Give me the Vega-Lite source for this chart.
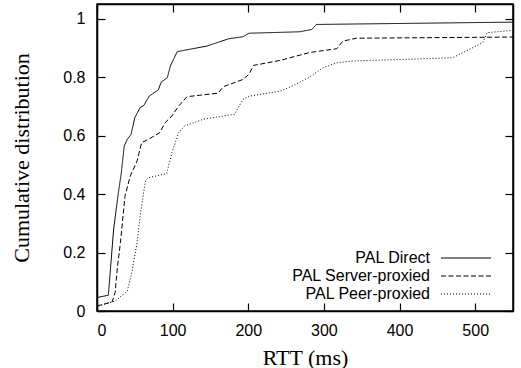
{
  "$schema": "https://vega.github.io/schema/vega-lite/v6.json",
  "width": 416,
  "height": 307,
  "autosize": "none",
  "padding": {"left": 97, "top": 4, "right": 8, "bottom": 57},
  "config": {
    "view": {"stroke": "#000", "strokeWidth": 1.5},
    "axis": {"grid": false, "domainColor": "#000", "domainWidth": 1.5, "tickWidth": 1.2, "labelColor": "#000", "titleColor": "#000", "labelFont": "Liberation Sans", "labelFontSize": 16, "titleFont": "Liberation Serif", "titleFontWeight": "normal", "titleFontSize": 22}
  },
  "data": {"values": [
    {"s": "PAL Direct", "x": 0, "y": 0.046}, {"s": "PAL Direct", "x": 15, "y": 0.054}, {"s": "PAL Direct", "x": 18, "y": 0.15}, {"s": "PAL Direct", "x": 22, "y": 0.28}, {"s": "PAL Direct", "x": 28, "y": 0.40}, {"s": "PAL Direct", "x": 32, "y": 0.47}, {"s": "PAL Direct", "x": 36, "y": 0.564}, {"s": "PAL Direct", "x": 40, "y": 0.587}, {"s": "PAL Direct", "x": 45, "y": 0.604}, {"s": "PAL Direct", "x": 50, "y": 0.661}, {"s": "PAL Direct", "x": 57, "y": 0.696}, {"s": "PAL Direct", "x": 62, "y": 0.703}, {"s": "PAL Direct", "x": 69, "y": 0.735}, {"s": "PAL Direct", "x": 81, "y": 0.756}, {"s": "PAL Direct", "x": 85, "y": 0.783}, {"s": "PAL Direct", "x": 93, "y": 0.798}, {"s": "PAL Direct", "x": 97, "y": 0.838}, {"s": "PAL Direct", "x": 106, "y": 0.887}, {"s": "PAL Direct", "x": 145, "y": 0.906}, {"s": "PAL Direct", "x": 174, "y": 0.931}, {"s": "PAL Direct", "x": 193, "y": 0.938}, {"s": "PAL Direct", "x": 201, "y": 0.950}, {"s": "PAL Direct", "x": 268, "y": 0.955}, {"s": "PAL Direct", "x": 284, "y": 0.963}, {"s": "PAL Direct", "x": 290, "y": 0.98}, {"s": "PAL Direct", "x": 550, "y": 0.988},
    {"s": "PAL Server-proxied", "x": 0, "y": 0.017}, {"s": "PAL Server-proxied", "x": 20, "y": 0.031}, {"s": "PAL Server-proxied", "x": 24, "y": 0.063}, {"s": "PAL Server-proxied", "x": 27, "y": 0.15}, {"s": "PAL Server-proxied", "x": 31, "y": 0.234}, {"s": "PAL Server-proxied", "x": 37, "y": 0.393}, {"s": "PAL Server-proxied", "x": 44, "y": 0.462}, {"s": "PAL Server-proxied", "x": 53, "y": 0.513}, {"s": "PAL Server-proxied", "x": 59, "y": 0.576}, {"s": "PAL Server-proxied", "x": 68, "y": 0.587}, {"s": "PAL Server-proxied", "x": 83, "y": 0.61}, {"s": "PAL Server-proxied", "x": 90, "y": 0.644}, {"s": "PAL Server-proxied", "x": 99, "y": 0.667}, {"s": "PAL Server-proxied", "x": 108, "y": 0.701}, {"s": "PAL Server-proxied", "x": 119, "y": 0.733}, {"s": "PAL Server-proxied", "x": 160, "y": 0.745}, {"s": "PAL Server-proxied", "x": 167, "y": 0.767}, {"s": "PAL Server-proxied", "x": 193, "y": 0.792}, {"s": "PAL Server-proxied", "x": 201, "y": 0.81}, {"s": "PAL Server-proxied", "x": 207, "y": 0.84}, {"s": "PAL Server-proxied", "x": 242, "y": 0.857}, {"s": "PAL Server-proxied", "x": 281, "y": 0.884}, {"s": "PAL Server-proxied", "x": 317, "y": 0.897}, {"s": "PAL Server-proxied", "x": 325, "y": 0.923}, {"s": "PAL Server-proxied", "x": 343, "y": 0.933}, {"s": "PAL Server-proxied", "x": 550, "y": 0.937},
    {"s": "PAL Peer-proxied", "x": 2, "y": 0.017}, {"s": "PAL Peer-proxied", "x": 24, "y": 0.034}, {"s": "PAL Peer-proxied", "x": 40, "y": 0.068}, {"s": "PAL Peer-proxied", "x": 46, "y": 0.131}, {"s": "PAL Peer-proxied", "x": 53, "y": 0.234}, {"s": "PAL Peer-proxied", "x": 57, "y": 0.325}, {"s": "PAL Peer-proxied", "x": 64, "y": 0.445}, {"s": "PAL Peer-proxied", "x": 68, "y": 0.456}, {"s": "PAL Peer-proxied", "x": 92, "y": 0.47}, {"s": "PAL Peer-proxied", "x": 97, "y": 0.519}, {"s": "PAL Peer-proxied", "x": 99, "y": 0.542}, {"s": "PAL Peer-proxied", "x": 108, "y": 0.61}, {"s": "PAL Peer-proxied", "x": 116, "y": 0.633}, {"s": "PAL Peer-proxied", "x": 141, "y": 0.656}, {"s": "PAL Peer-proxied", "x": 182, "y": 0.673}, {"s": "PAL Peer-proxied", "x": 193, "y": 0.724}, {"s": "PAL Peer-proxied", "x": 202, "y": 0.735}, {"s": "PAL Peer-proxied", "x": 242, "y": 0.752}, {"s": "PAL Peer-proxied", "x": 259, "y": 0.77}, {"s": "PAL Peer-proxied", "x": 281, "y": 0.80}, {"s": "PAL Peer-proxied", "x": 299, "y": 0.832}, {"s": "PAL Peer-proxied", "x": 317, "y": 0.849}, {"s": "PAL Peer-proxied", "x": 338, "y": 0.855}, {"s": "PAL Peer-proxied", "x": 470, "y": 0.866}, {"s": "PAL Peer-proxied", "x": 488, "y": 0.889}, {"s": "PAL Peer-proxied", "x": 510, "y": 0.918}, {"s": "PAL Peer-proxied", "x": 516, "y": 0.952}, {"s": "PAL Peer-proxied", "x": 550, "y": 0.96}
  ]},
  "layer": [
    {
      "mark": {"type": "line", "color": "#000", "strokeWidth": 1, "clip": true},
      "encoding": {
        "x": {"field": "x", "type": "quantitative", "scale": {"domain": [0, 550], "nice": false, "zero": false}, "axis": {"orient": "bottom", "tickCount": 6, "tickColor": "#000", "tickSize": -8, "labelPadding": 19, "title": "RTT (ms)", "titlePadding": 9}},
        "y": {"field": "y", "type": "quantitative", "scale": {"domain": [0, 1.05], "nice": false}, "axis": {"orient": "left", "tickCount": 5, "format": "~g", "tickColor": "#000", "tickSize": -8, "labelPadding": 20, "title": "Cumulative distribution", "titlePadding": 29}},
        "strokeDash": {"field": "s", "type": "nominal", "scale": {"domain": ["PAL Direct", "PAL Server-proxied", "PAL Peer-proxied"], "range": [[1, 0], [5, 2.5], [1, 2]]},
          "legend": {"title": null, "orient": "none", "legendX": 361, "legendY": 246, "labelFont": "Liberation Sans", "labelFontSize": 16, "labelColor": "#000", "labelAlign": "right", "labelOffset": -44, "symbolType": "M-5,0H5", "symbolSize": 100, "symbolStrokeColor": "#000", "symbolStrokeWidth": 1, "rowPadding": 2, "labelLimit": 300}}
      }
    },
    {
      "mark": {"type": "line", "opacity": 0},
      "encoding": {
        "x": {"field": "x", "type": "quantitative", "axis": {"orient": "top", "tickCount": 6, "tickColor": "#000", "tickSize": -8, "labels": false, "title": null}},
        "y": {"field": "y", "type": "quantitative", "axis": {"orient": "right", "tickCount": 5, "tickColor": "#000", "tickSize": -8, "labels": false, "title": null}},
        "detail": {"field": "s"}
      }
    }
  ],
  "resolve": {"axis": {"x": "independent", "y": "independent"}}
}
